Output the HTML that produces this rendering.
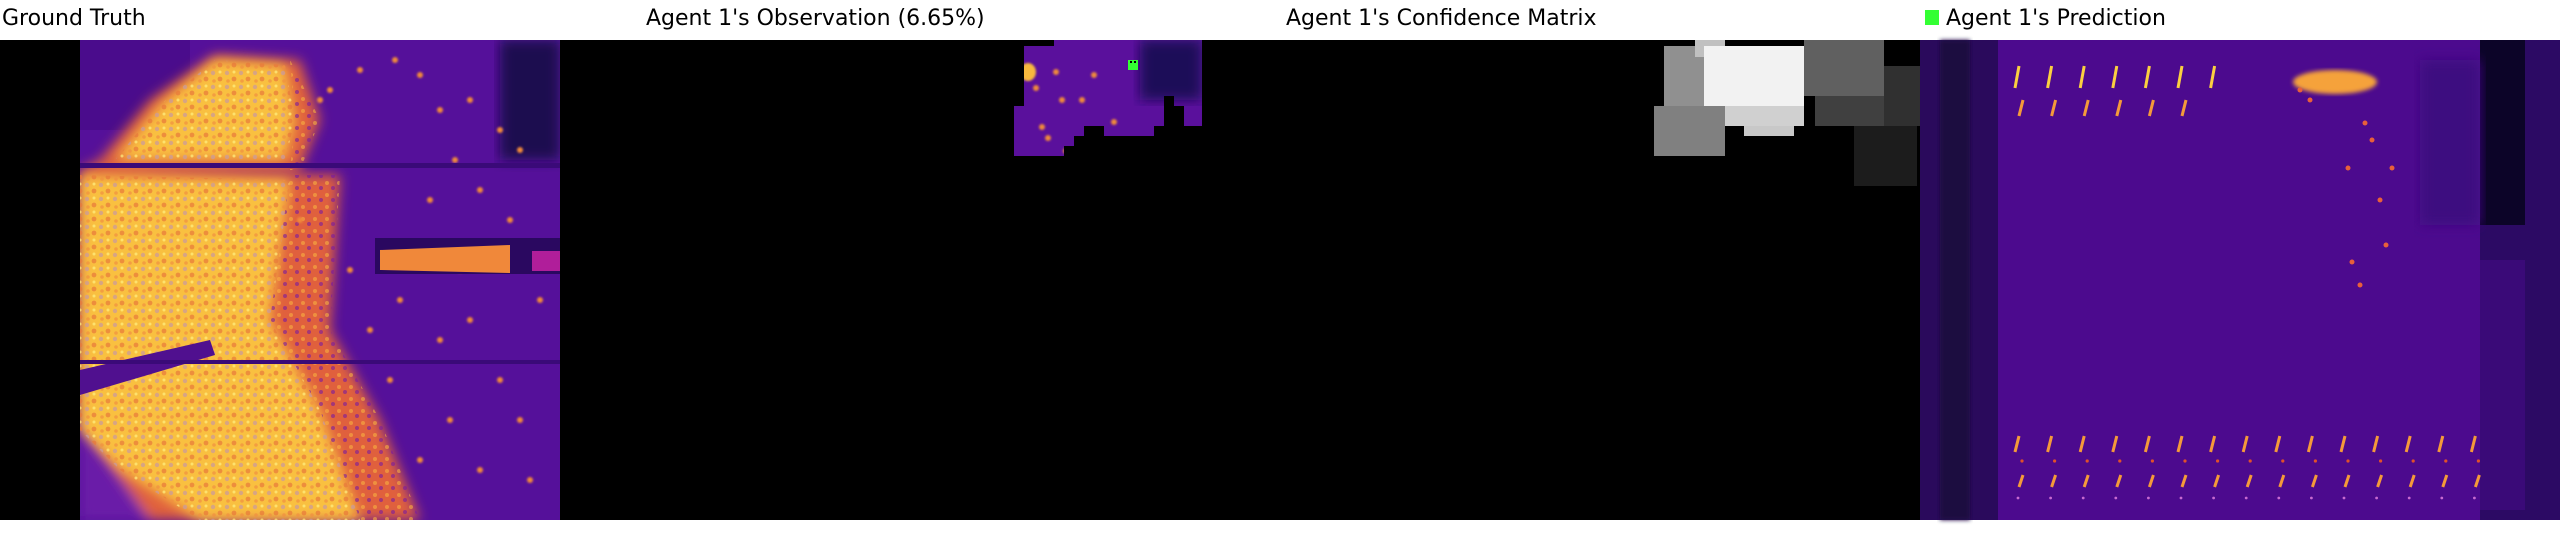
<!DOCTYPE html>
<html><head><meta charset="utf-8">
<style>
html,body{margin:0;padding:0;background:#fff;}
#root{position:relative;width:2560px;height:560px;overflow:hidden;background:#fff;font-family:"DejaVu Sans","Liberation Sans",sans-serif;}
.t{position:absolute;top:6px;font-size:22px;color:#000;white-space:nowrap;}
svg{position:absolute;left:0;top:0;}
</style></head>
<body>
<div id="root">
<svg id="s" width="2560" height="560">
<defs>
<filter id="b6"><feGaussianBlur stdDeviation="6"/></filter>
<filter id="b2"><feGaussianBlur stdDeviation="2"/></filter>
<filter id="b1"><feGaussianBlur stdDeviation="1"/></filter>
<pattern id="mott" width="14" height="14" patternUnits="userSpaceOnUse">
<circle cx="3" cy="3" r="2.2" fill="#c89aa0"/><circle cx="10" cy="9" r="2.4" fill="#e8783a"/><circle cx="10" cy="2" r="1.5" fill="#fff080"/><circle cx="4" cy="11" r="1.8" fill="#f09040"/>
</pattern>
<pattern id="mott2" width="12" height="12" patternUnits="userSpaceOnUse">
<circle cx="3" cy="3" r="2" fill="#f8b040"/><circle cx="9" cy="8" r="2" fill="#7a1aa0"/>
</pattern>
<clipPath id="gtclip"><rect x="80" y="40" width="480" height="480"/></clipPath>
<clipPath id="yclip"><polygon points="115,160 160,105 215,60 285,65 295,120 285,160 115,160"/><polygon points="80,175 290,180 270,320 320,410 360,520 200,520 120,470 80,430"/></clipPath>
<clipPath id="oclip"><polygon points="290,60 320,120 300,170 290,170 295,120"/><polygon points="290,175 340,175 330,330 380,420 420,520 360,520 320,410 270,320"/></clipPath>
<clipPath id="obsclip"><polygon points="1024,46 1054,46 1054,40 1202,40 1202,126 1184,126 1184,106 1174,106 1174,96 1164,96 1164,126 1154,126 1154,136 1104,136 1104,126 1084,126 1084,136 1074,136 1074,146 1064,146 1064,156 1014,156 1014,106 1024,106"/></clipPath>
</defs>
<!-- panel 1 ground truth -->
<rect x="0" y="40" width="640" height="480" fill="#000"/>
<g clip-path="url(#gtclip)">
<rect x="80" y="40" width="480" height="480" fill="#55109a"/>
<rect x="500" y="40" width="60" height="120" fill="#1a0a50" filter="url(#b6)"/>
<rect x="80" y="40" width="110" height="90" fill="#4a0c8c"/>
<g filter="url(#b6)">
<polygon points="100,160 150,100 215,55 300,60 320,120 300,170 80,170" fill="#e0603c"/>
<polygon points="80,170 340,175 330,330 380,420 420,520 80,520" fill="#e0603c"/>
<polygon points="80,420 150,520 80,520" fill="#6a1aa8"/>
</g>
<g filter="url(#b6)">
<polygon points="115,160 160,105 215,60 285,65 295,120 285,160 115,160" fill="#f9c040"/>
<polygon points="80,175 290,180 270,320 320,410 360,520 200,520 120,470 80,430" fill="#f9c040"/>
</g>
<g clip-path="url(#yclip)" opacity="0.7"><rect x="80" y="40" width="480" height="480" fill="url(#mott)"/></g>
<g clip-path="url(#oclip)" opacity="0.6"><rect x="80" y="40" width="480" height="480" fill="url(#mott2)"/></g>
<g id="speck" filter="url(#b1)"></g>
<polygon points="80,370 210,340 215,355 80,395" fill="#50108f"/>
<rect x="80" y="163" width="480" height="5" fill="#3a0a78"/>
<rect x="80" y="360" width="480" height="4" fill="#3a0a78"/>
<rect x="375" y="238" width="185" height="36" fill="#2a0860"/>
<polygon points="380,250 510,245 510,273 380,270" fill="#f0883a"/>
<rect x="532" y="251" width="28" height="20" fill="#b01e9a"/>
</g>
<!-- panel 2 observation -->
<rect x="640" y="40" width="640" height="480" fill="#000"/>
<g clip-path="url(#obsclip)">
<rect x="1010" y="40" width="200" height="120" fill="#5a109c"/>
<rect x="1140" y="40" width="62" height="60" fill="#1c0a58" filter="url(#b6)"/>
<g id="obsspeck" filter="url(#b1)"></g>
</g>
<rect x="1128" y="60" width="10" height="10" fill="#33ff33"/>
<rect x="1130" y="61" width="2" height="2" fill="#000"/><rect x="1134" y="61" width="2" height="2" fill="#000"/>
<!-- panel 3 confidence -->
<rect x="1280" y="40" width="640" height="480" fill="#000"/>
<g id="conf"></g>
<!-- panel 4 prediction -->
<g>
<rect x="1920" y="40" width="640" height="480" fill="#3a0a74"/>
<rect x="1920" y="40" width="80" height="480" fill="#2a0a5c"/>
<rect x="1940" y="40" width="30" height="480" fill="#1a0840" filter="url(#b2)"/>
<rect x="1998" y="40" width="482" height="480" fill="#4c0a8e"/>
<rect x="2480" y="40" width="80" height="480" fill="#2c0a64"/>
<rect x="2480" y="40" width="45" height="185" fill="#0c0428"/>
<rect x="2480" y="260" width="45" height="250" fill="#3a0a78"/>
<rect x="2420" y="60" width="60" height="165" fill="#3e0a80" filter="url(#b6)"/>
<g id="pred"></g>
</g>
</svg>
<div class="t" style="left:2px">Ground Truth</div>
<div class="t" style="left:646px">Agent 1's Observation (6.65%)</div>
<div class="t" style="left:1286px">Agent 1's Confidence Matrix</div>
<div style="position:absolute;left:1925px;top:10px;width:14px;height:15px;background:#33ff33"></div>
<div class="t" style="left:1946px">Agent 1's Prediction</div>
</div>
<script>
// confidence blocks: [x, y, w, h, gray level 0-255]
const confX=[1664,1695,1704,1725,1744,1654,1804,1815,1884,1854];
const confY=[46,40,46,106,126,106,40,96,66,126];
const confW=[40,30,100,79,50,71,80,69,37,63];
const confH=[60,17,60,20,10,50,56,30,60,60];
const confV=[144,192,242,208,200,128,96,64,48,28];
// prediction dash rows
const rowY=[66,100,436,475];
const rowN=[7,6,15,15];
const rowLen=[22,16,16,12];
const NS='http://www.w3.org/2000/svg';
function mk(t,a,p){const e=document.createElementNS(NS,t);for(const k in a)e.setAttribute(k,a[k]);p.appendChild(e);return e;}
const conf=document.getElementById('conf');
for(let i=0;i<confX.length;i++){
  const v=confV[i];
  const r=mk('rect',{x:confX[i],y:confY[i],width:confW[i],height:confH[i],fill:`rgb(${v},${v},${v})`},conf);
  
  
}
const pred=document.getElementById('pred');
for(let r=0;r<rowY.length;r++){
  for(let k=0;k<rowN[r];k++){
    const x=2015+k*32.6+(r%2?4:0);
    const l=mk('line',{x1:x+4,y1:rowY[r],x2:x,y2:rowY[r]+rowLen[r],stroke:r===0?'#fbd040':'#f59a3a','stroke-width':3},pred);
    
    
  }
}
for(let k=0;k<15;k++){
  mk('circle',{cx:2022+k*32.6,cy:461,r:1.6,fill:'#e0502a'},pred);
  mk('circle',{cx:2018+k*32.6,cy:498,r:1.4,fill:'#c86ad0'},pred);
}
mk('ellipse',{cx:2335,cy:82,rx:42,ry:12,fill:'#f5a23a',filter:'url(#b2)'},pred);
[[2365,123],[2380,200],[2386,245],[2360,285],[2348,168],[2392,168],[2372,140],[2352,262],[2300,90],[2310,100]].forEach(p=>mk('circle',{cx:p[0],cy:p[1],r:2.5,fill:'#e8603a'},pred));
// texture speckles (fixed list)
const sp=document.getElementById('speck');
const specks=[[330,90],[360,70],[395,60],[420,75],[440,110],[470,100],[500,130],[455,160],[430,200],[480,190],[520,150],[510,220],[400,300],[440,340],[470,320],[500,380],[520,420],[450,420],[420,460],[480,470],[530,480],[390,380],[460,270],[540,300],[350,270],[370,330],[300,220],[320,100]];
specks.forEach(p=>mk('circle',{cx:p[0],cy:p[1],r:3,fill:'#f08a3a'},sp));
const os=document.getElementById('obsspeck');
mk('ellipse',{cx:1028,cy:72,rx:8,ry:9,fill:'#f8b83c'},os);
[[1056,72],[1062,100],[1082,100],[1094,75],[1048,138],[1042,127],[1066,151],[1114,122],[1036,88]].forEach(p=>mk('circle',{cx:p[0],cy:p[1],r:3,fill:'#f08a3a'},os));
</script>
</body></html>
